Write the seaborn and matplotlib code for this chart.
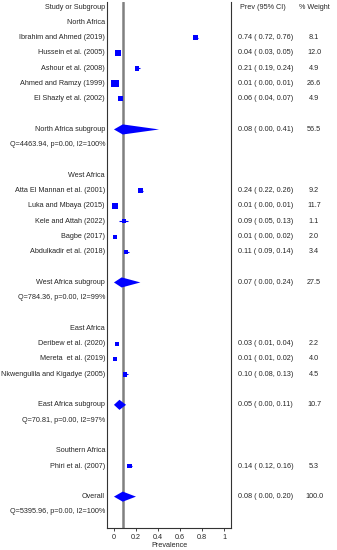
import numpy as np
import pandas as pd
import seaborn as sns
import matplotlib.pyplot as plt
import matplotlib.transforms as mtransforms

# study level data, grouped by region

regions = ['North Africa', 'West Africa', 'East Africa', 'Southern Africa']

study_names = [
    ['Ibrahim and Ahmed (2019)', 'Hussein et al. (2005)', 'Ashour et al. (2008)',
     'Ahmed and Ramzy (1999)', 'El Shazly et al. (2002)'],
    ['Atta El Mannan et al. (2001)', 'Luka and Mbaya (2015)', 'Kele and Attah (2022)',
     'Bagbe (2017)', 'Abdulkadir et al. (2018)'],
    ['Deribew et al. (2020)', 'Mereta  et al. (2019)', 'Nkwengulila and Kigadye (2005)'],
    ['Phiri et al. (2007)'],
]
study_prev = [[0.74, 0.04, 0.21, 0.01, 0.06], [0.24, 0.01, 0.09, 0.01, 0.11], [0.03, 0.01, 0.10], [0.14]]
study_lo = [[0.72, 0.03, 0.19, 0.00, 0.04], [0.22, 0.00, 0.05, 0.00, 0.09], [0.01, 0.01, 0.08], [0.12]]
study_hi = [[0.76, 0.05, 0.24, 0.01, 0.07], [0.26, 0.01, 0.13, 0.02, 0.14], [0.04, 0.02, 0.13], [0.16]]
study_weight = [[8.1, 12.0, 4.9, 26.6, 4.9], [9.2, 11.7, 1.1, 2.0, 3.4], [2.2, 4.0, 4.5], [5.3]]

# subgroup pooled estimates (Southern Africa has a single study, no subgroup)
sub_prev = [0.08, 0.07, 0.05]
sub_lo = [0.00, 0.00, 0.00]
sub_hi = [0.41, 0.24, 0.11]
sub_weight = [56.5, 27.5, 10.7]
sub_het = ['Q=4463.94, p=0.00, I2=100%', 'Q=784.36, p=0.00, I2=99%', 'Q=70.81, p=0.00, I2=97%']

overall = (0.08, 0.00, 0.20, 100.0)
overall_het = 'Q=5395.96, p=0.00, I2=100%'

x_ticks = [0, 0.2, 0.4, 0.6, 0.8, 1]
x_tick_labels = ['0', '0.2', '0.4', '0.6', '0.8', '1']

# build row layout
study_rows = []
pooled_rows = []
text_rows = []
r = 1
for i, reg in enumerate(regions):
    text_rows.append((r, reg))
    r += 1
    for name, p, lo, hi, w in zip(study_names[i], study_prev[i], study_lo[i], study_hi[i], study_weight[i]):
        study_rows.append(dict(row=r, name=name, prev=p, lo=lo, hi=hi, weight=w))
        r += 1
    r += 1
    if i < len(sub_prev):
        pooled_rows.append(dict(row=r, name=reg + ' subgroup', prev=sub_prev[i], lo=sub_lo[i],
                                hi=sub_hi[i], weight=sub_weight[i]))
        text_rows.append((r + 1, sub_het[i]))
        r += 3
pooled_rows.append(dict(row=r, name='Overall', prev=overall[0], lo=overall[1], hi=overall[2], weight=overall[3]))
text_rows.append((r + 1, overall_het))

studies = pd.DataFrame(study_rows)
pooled = pd.DataFrame(pooled_rows)

# marker size grows with square root of weight
side_px = 2.6 + np.sqrt(studies['weight'])
studies['area'] = (side_px * 0.72) ** 2

sns.set_style('white')
plt.rcParams['font.family'] = ['Liberation Sans', 'DejaVu Sans']
fs = 5.25

fig = plt.figure(figsize=(3.37, 5.5), dpi=100)
ax = fig.add_axes([107 / 337, 1 - 528 / 550, 124 / 337, 526 / 550])

ax.axvline(overall[0], color='#808080', lw=1.8, zorder=1)
ax.hlines(studies['row'], studies['lo'], studies['hi'], color='blue', lw=0.8, zorder=2)
sns.scatterplot(data=studies, x='prev', y='row', marker='s', s=studies['area'],
                color='blue', edgecolor='blue', linewidth=0, ax=ax, zorder=3, legend=False)

h = 0.33
for _, d in pooled.iterrows():
    ax.fill([d['lo'], d['prev'], d['hi'], d['prev']],
            [d['row'], d['row'] - h, d['row'], d['row'] + h],
            color='blue', lw=0, zorder=3)

ax.set_xlim(-0.063, 1.063)
ax.set_ylim(34.05, -0.33)
ax.set_xticks(x_ticks)
ax.set_xticklabels(x_tick_labels, fontsize=fs)
ax.set_yticks([])
ax.tick_params(axis='x', direction='out', length=2, width=0.6, pad=2, bottom=True)
ax.set_xlabel('Prevalence', fontsize=fs, labelpad=1)
ax.set_ylabel('')
for s in ['left', 'right', 'bottom']:
    ax.spines[s].set_color('#333333')
    ax.spines[s].set_linewidth(0.8)
ax.spines['top'].set_visible(False)

# text columns
tr = mtransforms.blended_transform_factory(fig.transFigure, ax.transData)
x_lab = 105 / 337
x_ci = 238 / 337
x_w = 314 / 337

ax.text(x_lab, 0, 'Study or Subgroup', transform=tr, ha='right', va='center', fontsize=fs)
ax.text(240 / 337, 0, 'Prev (95% CI)', transform=tr, ha='left', va='center', fontsize=fs)
ax.text(x_w, 0, '% Weight', transform=tr, ha='center', va='center', fontsize=fs)

for row, txt in text_rows:
    ax.text(x_lab, row, txt, transform=tr, ha='right', va='center', fontsize=fs)

for df in [studies, pooled]:
    for _, d in df.iterrows():
        ax.text(x_lab, d['row'], d['name'], transform=tr, ha='right', va='center', fontsize=fs)
        ax.text(x_ci, d['row'], f"{d['prev']:.2f} ( {d['lo']:.2f}, {d['hi']:.2f})",
                transform=tr, ha='left', va='center', fontsize=fs)
        ax.text(x_w, d['row'], f"{d['weight']:.1f}", transform=tr, ha='center', va='center', fontsize=fs)

fig.savefig('out.png', dpi=100)
